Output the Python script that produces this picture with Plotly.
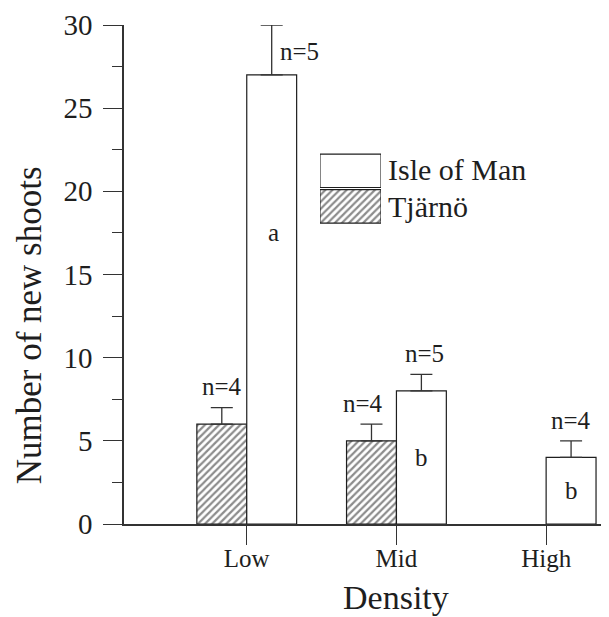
import plotly.graph_objects as go

# ---- data ----
categories = ["Low", "Mid", "High"]
series_names = ["Isle of Man", "Tjärnö"]
tjarno = [6, 5, None]
tjarno_err = [1, 1, 0]
iom = [27, 8, 4]
iom_err = [3, 1, 1]
tjarno_n = ["n=4", "n=4", ""]
iom_n = ["n=5", "n=5", "n=4"]
iom_letters = ["a", "b", "b"]
y_ticks = [0, 5, 10, 15, 20, 25, 30]

FONT = "Liberation Serif, Times New Roman, serif"
INK = "#1e1e1e"
LINE = "#333333"

xs = list(range(len(categories)))
bar_w = 1 / 3

fig = go.Figure()

hatch = dict(shape="/", fgcolor="#1a1a1a", bgcolor="white", size=5, solidity=0.45)

fig.add_trace(go.Bar(
    x=xs, y=tjarno, name=series_names[1],
    marker=dict(color="white", pattern=hatch, line=dict(color=INK, width=1.2)),
    error_y=dict(type="data", symmetric=False, array=tjarno_err,
                 arrayminus=[0] * len(xs), color=LINE, thickness=1.3, width=11),
    showlegend=False, cliponaxis=False,
))
fig.add_trace(go.Bar(
    x=xs, y=iom, name=series_names[0],
    marker=dict(color="white", line=dict(color=INK, width=1.2)),
    error_y=dict(type="data", symmetric=False, array=iom_err,
                 arrayminus=[0] * len(xs), color=LINE, thickness=1.3, width=11),
    showlegend=False, cliponaxis=False,
))

# legend swatches drawn as bars on a small overlay axis
fig.add_trace(go.Bar(
    y=[series_names[0]], x=[1], orientation="h", width=0.94,
    marker=dict(color="white", line=dict(color=INK, width=1.2)),
    xaxis="x2", yaxis="y2", showlegend=False, hoverinfo="skip",
))
fig.add_trace(go.Bar(
    y=[series_names[1]], x=[1], orientation="h", width=0.94,
    marker=dict(color="white", pattern=hatch, line=dict(color=INK, width=1.2)),
    xaxis="x2", yaxis="y2", showlegend=False, hoverinfo="skip",
))

annotations = []
txt = dict(family=FONT, size=25, color=INK)
for i, x in enumerate(xs):
    # Tjärnö n labels
    if tjarno[i] is not None and tjarno_n[i]:
        annotations.append(dict(x=x - bar_w / 2, y=tjarno[i] + tjarno_err[i] + 1.25,
                                text=tjarno_n[i], showarrow=False, font=txt,
                                xanchor="center", yanchor="middle",
                                xshift=-8 if i == 1 else 0))
    # Isle of Man n labels
    top = iom[i] + iom_err[i]
    if top >= 29:
        annotations.append(dict(x=x + bar_w / 2, y=iom[i] + 1.4, text=iom_n[i],
                                showarrow=False, font=txt, xanchor="left",
                                yanchor="middle", xshift=6))
    else:
        annotations.append(dict(x=x + bar_w / 2, y=top + 1.25, text=iom_n[i],
                                showarrow=False, font=txt, xanchor="center",
                                yanchor="middle", xshift=3 if i == 1 else 0))
    # letters inside bars
    frac = 0.65 if iom[i] > 20 else 0.5
    annotations.append(dict(x=x + bar_w / 2, y=iom[i] * frac, text=iom_letters[i],
                            showarrow=False, font=txt, xanchor="center",
                            yanchor="middle", xshift=2 if i == 0 else 0))

# legend texts
leg_font = dict(family=FONT, size=30, color=INK)
annotations.append(dict(xref="paper", yref="paper", x=0.541, y=0.711,
                        text=series_names[0], showarrow=False, font=leg_font,
                        xanchor="left", yanchor="middle"))
annotations.append(dict(xref="paper", yref="paper", x=0.541, y=0.637,
                        text=series_names[1], showarrow=False, font=leg_font,
                        xanchor="left", yanchor="middle"))

# axis titles
annotations.append(dict(xref="paper", yref="paper", x=-0.193, y=0.399,
                        text="Number of new shoots", textangle=-90,
                        showarrow=False, font=dict(family=FONT, size=35, color=INK),
                        xanchor="center", yanchor="middle", borderpad=0))
annotations.append(dict(xref="x", yref="paper", x=1, y=-0.148,
                        text="Density", showarrow=False,
                        font=dict(family=FONT, size=34, color=INK),
                        xanchor="center", yanchor="middle"))

# page body has an 8px margin: figure sized 609-8 x 617-8
fig.update_layout(
    width=601, height=609,
    margin=dict(l=116, r=0, t=17, b=93),
    paper_bgcolor="white", plot_bgcolor="white",
    barmode="group", bargap=1 / 3, bargroupgap=0,
    showlegend=False,
    annotations=annotations,
    xaxis=dict(
        range=[-0.82, 2.42], tickvals=xs, ticktext=categories,
        ticks="outside", ticklen=19, tickwidth=1.3, tickcolor=LINE,
        showline=True, linecolor=LINE, linewidth=1.5,
        showgrid=False, zeroline=False,
        tickfont=dict(family=FONT, size=25, color=INK),
        ticklabelstandoff=-8,
    ),
    yaxis=dict(
        range=[0, 30], tickvals=y_ticks,
        ticks="outside", ticklen=19, tickwidth=1.3, tickcolor=LINE,
        minor=dict(dtick=2.5, ticks="outside", ticklen=10, tickwidth=1.3,
                   tickcolor=LINE, showgrid=False),
        showline=True, linecolor=LINE, linewidth=1.5,
        showgrid=False, zeroline=False,
        tickfont=dict(family=FONT, size=29, color=INK),
        ticklabelstandoff=5,
    ),
    xaxis2=dict(domain=[0.404, 0.530], range=[0, 1], visible=False,
                anchor="y2", fixedrange=True),
    yaxis2=dict(domain=[0.601, 0.7435], range=[-0.5, 1.5], visible=False,
                anchor="x2", fixedrange=True,
                categoryorder="array", categoryarray=[series_names[1], series_names[0]]),
)

fig.write_html("out.html")
